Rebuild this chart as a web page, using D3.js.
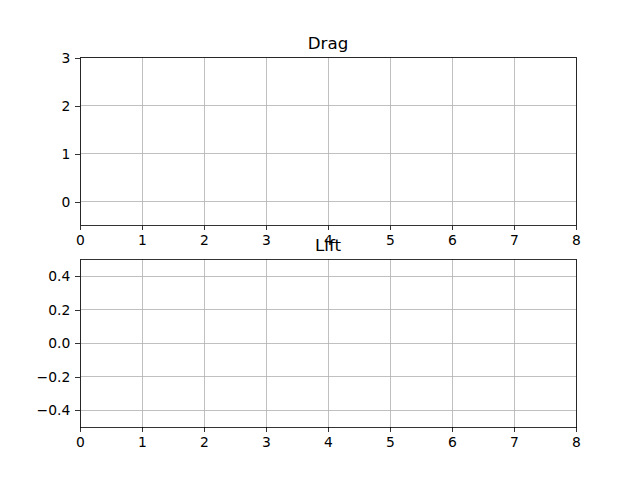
<!DOCTYPE html>
<html><head><meta charset="utf-8">
<script src="https://cdn.jsdelivr.net/npm/d3@7"></script>
<style>body{margin:0;background:#fff}svg{display:block}line,rect{shape-rendering:crispEdges}</style>
</head><body>
<script>
const titles = ["Drag", "Lift"];
const xDomain = [0, 8];
const xTicks = [0, 1, 2, 3, 4, 5, 6, 7, 8];
const yDomains = [[-0.5, 3], [-0.5, 0.5]];
const yTicks = [[0, 1, 2, 3], [-0.4, -0.2, 0.0, 0.2, 0.4]];

const W = 640, H = 480;
const left = 80, right = 576;
const axTops = [57.6, 259.2];
const axH = 168;
const pt = 100 / 72;
const tickLen = 3.5 * pt, pad = 3.5 * pt;
const font = "DejaVu Sans, sans-serif";

const svg = d3.select("body").append("svg").attr("width", W).attr("height", H);

const x = d3.scaleLinear().domain(xDomain).range([left, right]);

titles.forEach((t, i) => {
  const top = axTops[i], bottom = top + axH;
  const y = d3.scaleLinear().domain(yDomains[i]).range([bottom, top]);
  const g = svg.append("g");
  // grid
  g.selectAll(".gx").data(xTicks).enter().append("line")
    .attr("x1", d => x(d)).attr("x2", d => x(d)).attr("y1", top).attr("y2", bottom)
    .attr("stroke", "#b0b0b0").attr("stroke-width", 0.8);
  g.selectAll(".gy").data(yTicks[i]).enter().append("line")
    .attr("x1", left).attr("x2", right).attr("y1", d => y(d)).attr("y2", d => y(d))
    .attr("stroke", "#b0b0b0").attr("stroke-width", 0.8);
  // axes
  const xa = d3.axisBottom(x).tickValues(xTicks).tickFormat(d3.format("d"))
    .tickSizeInner(tickLen).tickSizeOuter(0).tickPadding(pad);
  const fmt = i === 0 ? d3.format("d") : (d => d3.format(".1f")(d).replace("-", "\u2212"));
  const ya = d3.axisLeft(y).tickValues(yTicks[i]).tickFormat(fmt)
    .tickSizeInner(tickLen).tickSizeOuter(0).tickPadding(pad);
  const gx = svg.append("g").attr("transform", `translate(0,${bottom})`).call(xa);
  const gy = svg.append("g").attr("transform", `translate(${left},0)`).call(ya);
  [gx, gy].forEach(a => {
    a.select(".domain").remove();
    a.selectAll("line").attr("stroke", "#000").attr("stroke-width", 0.8);
    a.selectAll("text").attr("fill", "#000").style("font-family", font).style("font-size", (10 * pt) + "px");
  });
  // spines
  svg.append("rect").attr("x", left).attr("y", top).attr("width", right - left).attr("height", axH)
    .attr("fill", "none").attr("stroke", "#000").attr("stroke-width", 0.8);
  // title
  svg.append("text").attr("x", (left + right) / 2).attr("y", top - 6 * pt)
    .attr("text-anchor", "middle").style("font-family", font).style("font-size", (12 * pt) + "px")
    .attr("fill", "#000").text(t);
});
</script>
</body></html>
